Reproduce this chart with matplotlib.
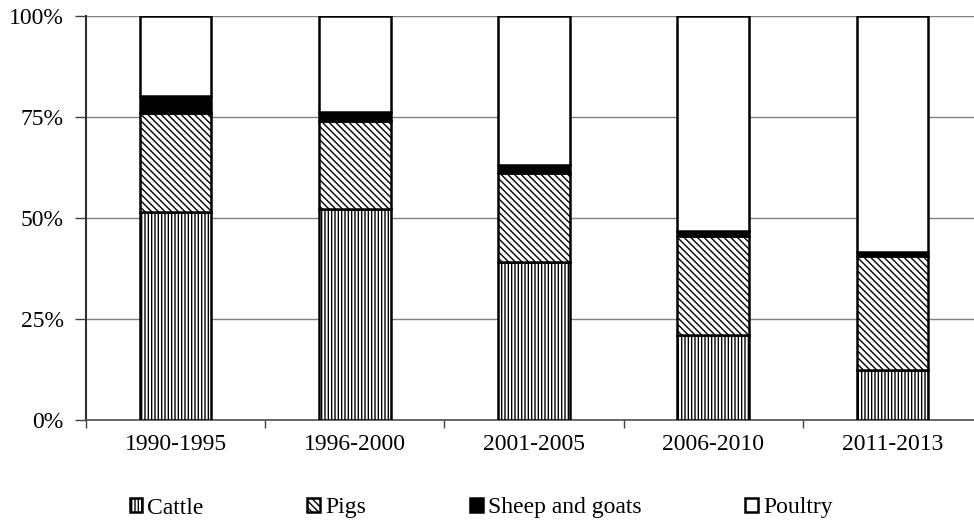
import matplotlib
matplotlib.use('Agg')
import matplotlib.pyplot as plt
import numpy as np

plt.rcParams['font.family'] = ['Liberation Serif', 'DejaVu Serif']
plt.rcParams['hatch.linewidth'] = 1.0

periods = ['1990-1995', '1996-2000', '2001-2005', '2006-2010', '2011-2013']
cattle = [51.5, 52.2, 39.1, 21.0, 12.4]
pigs = [24.5, 21.8, 22.0, 24.5, 28.2]
sheep_goats = [4.2, 2.2, 2.0, 1.3, 1.0]
poultry = [100 - c - p - s for c, p, s in zip(cattle, pigs, sheep_goats)]

series = [
    ('Cattle', cattle, 'white', '|||||'),
    ('Pigs', pigs, 'white', '\\\\\\\\\\'),
    ('Sheep and goats', sheep_goats, 'black', None),
    ('Poultry', poultry, 'white', None),
]

W, H = 974, 524
fig = plt.figure(figsize=(W / 100, H / 100), dpi=100)
ax = fig.add_axes([86 / W, 1 - 420 / H, 896 / W, 404 / H])

x = np.arange(len(periods))
bottom = np.zeros(len(periods))
for name, vals, color, hatch in series:
    ax.bar(x, vals, 0.40, bottom=bottom, color=color, edgecolor='black',
           linewidth=1.8, hatch=hatch, label=name, zorder=3)
    bottom += np.array(vals)

ax.set_xlim(-0.5, len(periods) - 0.5)
ax.set_ylim(0, 100)
ax.set_yticks([0, 25, 50, 75, 100])
ax.set_yticklabels(['0%', '25%', '50%', '75%', '100%'])
ax.set_xticks(x)
ax.set_xticklabels(periods)
ax.set_xticks(np.arange(len(periods) + 1) - 0.5, minor=True)
ax.tick_params(axis='x', which='major', length=0, pad=10, labelsize=17)
ax.tick_params(axis='x', which='minor', length=6, width=1, color='#404040')
ax.tick_params(axis='y', length=8, width=1, color='#404040', pad=8, labelsize=17)

ax.grid(axis='y', color='#808080', linewidth=1, zorder=0)
for s in ['top', 'right']:
    ax.spines[s].set_visible(False)
ax.spines['left'].set_color('#303030')
ax.spines['left'].set_linewidth(1.5)
ax.spines['bottom'].set_color('#505050')
ax.spines['bottom'].set_linewidth(1.2)

fig.legend(loc='center', bbox_to_anchor=(481 / W, 1 - 508 / H), ncol=4,
           frameon=False, fontsize=17, handlelength=0.55, handleheight=0.55,
           handletextpad=0.2, columnspacing=4.4)

fig.savefig('out.png', dpi=100)
